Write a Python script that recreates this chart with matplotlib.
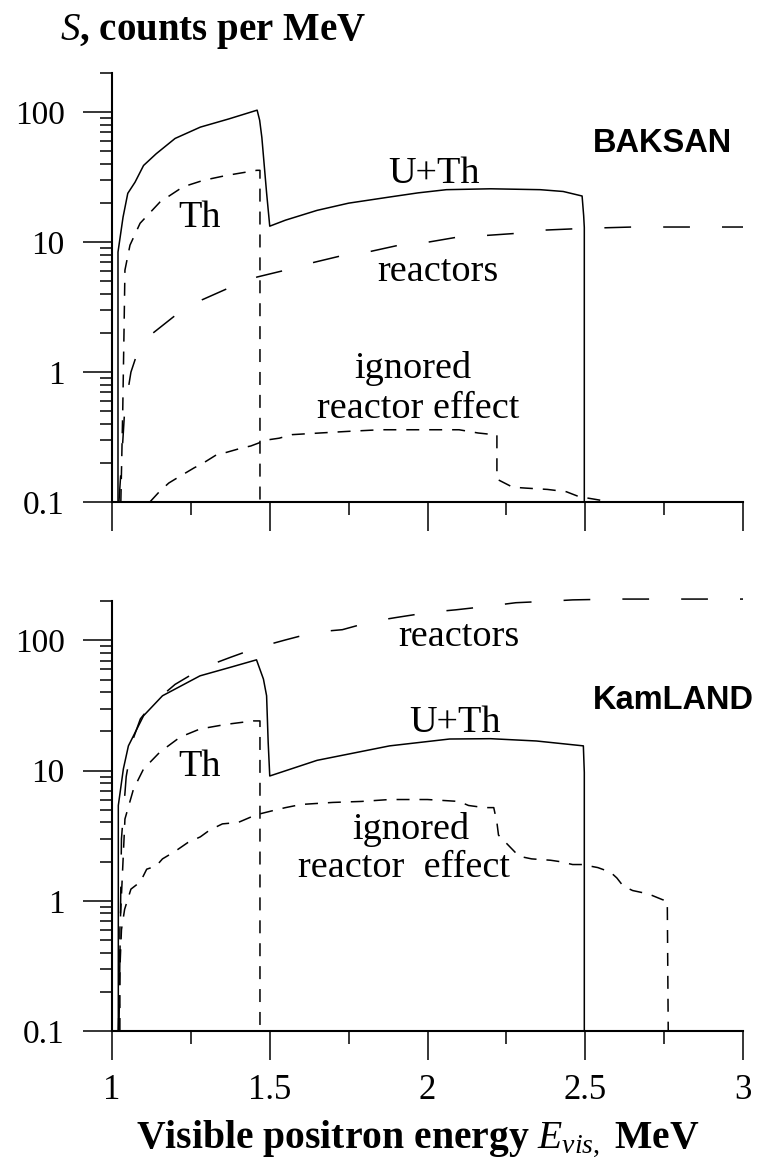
import matplotlib
matplotlib.use("Agg")
import matplotlib.pyplot as plt
import numpy as np

plt.rcParams['font.family'] = ['Liberation Serif', 'DejaVu Serif']
plt.rcParams['mathtext.fontset'] = 'custom'
plt.rcParams['mathtext.rm'] = 'Liberation Serif'
plt.rcParams['mathtext.it'] = 'Liberation Serif:italic'
plt.rcParams['mathtext.bf'] = 'Liberation Serif:bold'

#===================================================================================================
# data (E in MeV, S in counts per MeV)

# BAKSAN
baksan_uth_e = [1.019, 1.019, 1.035, 1.05, 1.073, 1.10, 1.14, 1.20, 1.28, 1.37, 1.46, 1.468, 1.475, 1.49, 1.50,
                1.55, 1.65, 1.75, 1.88, 1.97, 2.06, 2.2, 2.357, 2.43, 2.49, 2.495, 2.497, 2.497]
baksan_uth_s = [0.1, 8.4, 15.6, 23.8, 29, 39, 48, 63, 77, 89, 104, 87, 64, 24, 13.3,
                14.8, 17.6, 20, 22.3, 24, 25.4, 25.8, 25.4, 24.6, 22.7, 16, 13, 0.1]

baksan_th_e = [1.028, 1.034, 1.038, 1.041, 1.057, 1.089, 1.152, 1.225, 1.29, 1.363, 1.459, 1.469, 1.469]
baksan_th_s = [0.1, 0.5, 2.0, 6.1, 9.5, 14, 20.4, 26.7, 30, 32.7, 35.8, 35.8, 0.1]

baksan_react_e = [1.022, 1.03, 1.04, 1.06, 1.08, 1.13, 1.21, 1.285, 1.375, 1.46, 1.55, 1.64, 1.73, 1.81,
                  1.91, 2.0, 2.09, 2.19, 2.28, 2.37, 2.5, 2.65, 2.8, 3.0]
baksan_react_s = [0.1, 0.2, 0.5, 1.0, 1.4, 2.0, 2.85, 3.6, 4.5, 5.4, 6.1, 7.0, 7.9, 8.4,
                  9.5, 10.0, 10.9, 11.3, 11.7, 12.4, 12.8, 13.1, 13.1, 13.1]

baksan_ign_e = [1.12, 1.15, 1.18, 1.21, 1.26, 1.29, 1.33, 1.36, 1.41, 1.44, 1.49, 1.53, 1.57, 1.66, 1.75,
                1.85, 2.0, 2.1, 2.16, 2.21, 2.22, 2.22, 2.27, 2.31, 2.38, 2.44, 2.48, 2.53, 2.58, 2.6]
baksan_ign_s = [0.1, 0.12, 0.14, 0.155, 0.183, 0.2, 0.23, 0.24, 0.26, 0.27, 0.3, 0.31, 0.33, 0.34, 0.35,
                0.36, 0.36, 0.36, 0.34, 0.33, 0.33, 0.15, 0.13, 0.128, 0.125, 0.12, 0.11, 0.105, 0.1, 0.095]

# KamLAND
kam_uth_e = [1.02, 1.02, 1.036, 1.052, 1.10, 1.16, 1.279, 1.374, 1.458, 1.48, 1.49, 1.495, 1.50,
             1.65, 1.88, 2.07, 2.2, 2.345, 2.494, 2.497, 2.497]
kam_uth_s = [0.1, 5.4, 10.3, 15.5, 26.4, 37.6, 53.5, 62.1, 71, 50.5, 37.6, 16.5, 9.1,
             12, 15.5, 17.5, 17.6, 16.9, 15.5, 9.7, 0.1]

kam_th_e = [1.025, 1.025, 1.041, 1.068, 1.10, 1.152, 1.216, 1.279, 1.363, 1.448, 1.469, 1.469]
kam_th_s = [0.1, 0.6, 4.25, 7.2, 10.3, 13.9, 18.1, 20.9, 22.7, 24.1, 24.1, 0.1]

kam_react_e = [1.022, 1.03, 1.045, 1.065, 1.09, 1.13, 1.16, 1.2, 1.29, 1.374, 1.46, 1.55, 1.645, 1.73,
               1.825, 1.9, 2.01, 2.09, 2.19, 2.28, 2.38, 2.46, 2.6, 3.0]
kam_react_s = [0.1, 3, 9, 17, 25, 33, 38, 46, 62, 74, 88, 101, 116, 121,
               140, 150, 165, 172, 183, 195, 200, 205, 208, 208]

kam_ign_e = [1.02, 1.025, 1.03, 1.04, 1.06, 1.09, 1.11, 1.14, 1.16, 1.2, 1.24, 1.28, 1.31, 1.35, 1.4,
             1.44, 1.46, 1.52, 1.55, 1.6, 1.7, 1.79, 1.88, 2.0, 2.05, 2.1, 2.13, 2.18, 2.21, 2.22, 2.225,
             2.29, 2.33, 2.39, 2.42, 2.46, 2.49, 2.54, 2.58, 2.6, 2.62, 2.65, 2.7, 2.745, 2.76, 2.763]
kam_ign_s = [0.1, 0.3, 0.6, 0.86, 1.23, 1.4, 1.75, 1.85, 2.1, 2.4, 2.8, 3.1, 3.5, 3.9, 4.0,
             4.4, 4.6, 5.0, 5.2, 5.5, 5.7, 5.8, 6.0, 6.0, 5.9, 5.8, 5.4, 5.2, 5.2, 4.0, 3.2,
             2.2, 2.1, 2.05, 2.0, 1.9, 1.9, 1.8, 1.66, 1.5, 1.3, 1.2, 1.13, 1.02, 1.0, 0.1]

x_ticks = [1, 1.5, 2, 2.5, 3]
x_tick_labels = ['1', '1.5', '2', '2.5', '3']
y_ticks = [0.1, 1, 10, 100]
y_tick_labels = ['0.1', '1', '10', '100']

#===================================================================================================

fig = plt.figure(figsize=(7.58, 11.65), dpi=100)
ax_top = fig.add_axes([112/758, 1 - 502/1165, 631/758, 429/1165])
ax_bot = fig.add_axes([112/758, 1 - 1031/1165, 631/758, 430/1165])

short_dash = (0, (8.5, 6.5))
long_dash = (0, (17.5, 21))
lw = 1.1

def style_axis(ax, show_xlabels):
    ax.set_yscale('log')
    ax.set_xlim(1, 3)
    ax.set_ylim(0.1, 201)
    for s in ['top', 'right']:
        ax.spines[s].set_visible(False)
    for s in ['left', 'bottom']:
        ax.spines[s].set_linewidth(1.5)
    ax.set_xticks(x_ticks)
    ax.set_xticklabels(x_tick_labels if show_xlabels else [])
    ax.set_xticks([1.25, 1.75, 2.25, 2.75], minor=True)
    ax.set_yticks(y_ticks)
    ax.set_yticklabels(y_tick_labels)
    ax.yaxis.set_minor_locator(matplotlib.ticker.LogLocator(base=10, subs=np.arange(2, 10)))
    ax.yaxis.set_minor_formatter(matplotlib.ticker.NullFormatter())
    ax.tick_params(which='major', length=21, width=1.1, labelsize=24, direction='out')
    ax.tick_params(which='minor', length=9, width=1.1, direction='out')
    ax.tick_params(axis='y', which='major', pad=13)
    ax.tick_params(axis='x', which='major', pad=10, labelsize=25)

def draw_panel(ax, uth, th, react, ign):
    ax.plot(uth[0], uth[1], color='black', lw=lw)
    ax.plot(th[0], th[1], color='black', lw=lw, linestyle=short_dash)
    ax.plot(react[0], react[1], color='black', lw=lw, linestyle=long_dash, clip_on=False)
    ax.plot(ign[0], ign[1], color='black', lw=lw, linestyle=short_dash)

style_axis(ax_top, False)
style_axis(ax_bot, True)

draw_panel(ax_top, (baksan_uth_e, baksan_uth_s), (baksan_th_e, baksan_th_s),
           (baksan_react_e, baksan_react_s), (baksan_ign_e, baksan_ign_s))
draw_panel(ax_bot, (kam_uth_e, kam_uth_s), (kam_th_e, kam_th_s),
           (kam_react_e, kam_react_s), (kam_ign_e, kam_ign_s))

# curve labels
fs = 27.5
site_font = dict(fontsize=23.5, ha='center', va='baseline', weight='bold', family=['Liberation Sans', 'DejaVu Sans'])
ax_top.text(1.276, 13.0, 'Th', fontsize=fs, ha='center', va='baseline')
ax_top.text(2.021, 28.4, 'U+Th', fontsize=fs, ha='center', va='baseline')
ax_top.text(2.032, 5.0, 'reactors', fontsize=fs, ha='center', va='baseline')
ax_top.text(1.952, 0.9, 'ignored', fontsize=fs, ha='center', va='baseline')
ax_top.text(1.971, 0.443, 'reactor effect', fontsize=fs, ha='center', va='baseline')
ax_top.text(2.746, 49.2, 'BAKSAN', **site_font)

ax_bot.text(1.279, 9.08, 'Th', fontsize=fs, ha='center', va='baseline')
ax_bot.text(2.088, 19.8, 'U+Th', fontsize=fs, ha='center', va='baseline')
ax_bot.text(2.101, 90.4, 'reactors', fontsize=fs, ha='center', va='baseline')
ax_bot.text(1.948, 2.98, 'ignored', fontsize=fs, ha='center', va='baseline')
ax_bot.text(1.926, 1.52, 'reactor  effect', fontsize=fs, ha='center', va='baseline')
ax_bot.text(2.78, 29.7, 'KamLAND', **site_font)

# axis titles
fig.text(60/758, 1 - 40/1165, r'$S$, counts per MeV', fontsize=28, weight='bold', ha='left', va='baseline')
fig.text(418/758, 1 - 1147/1165, r'Visible positron energy $E_{vis,}$ MeV', fontsize=28.5, weight='bold',
         ha='center', va='baseline')

plt.savefig("out.png", dpi=100)
